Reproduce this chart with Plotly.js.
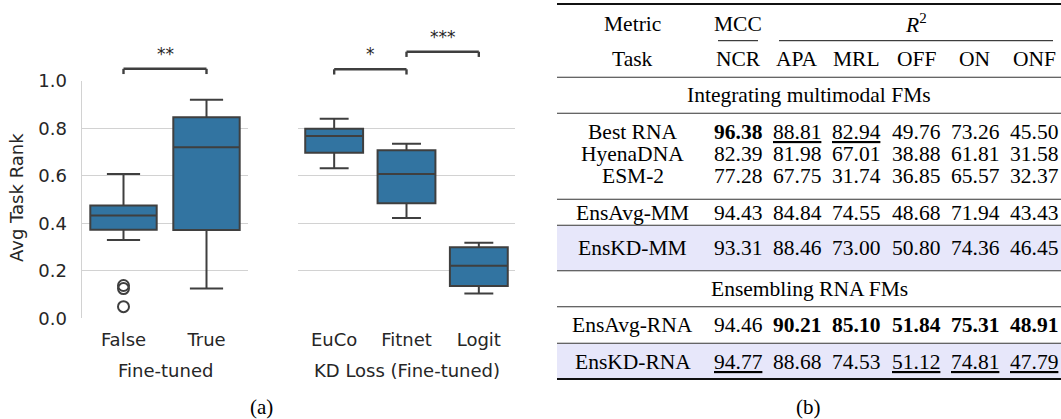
<!DOCTYPE html>
<html>
<head>
<meta charset="utf-8">
<script src="https://cdn.plot.ly/plotly-3.0.1.min.js"></script>
<style>html,body{margin:0;padding:0;background:#fff;}#chart{width:1061px;height:419px;}</style>
</head>
<body>
<div id="chart"></div>
<script>
// ---------- (a) box plot data ----------
const ftCategories = ['False', 'True'];
const ftLowerWhisker = [0.330, 0.125];
const ftQ1 = [0.373, 0.372];
const ftMedian = [0.433, 0.720];
const ftQ3 = [0.475, 0.846];
const ftUpperWhisker = [0.607, 0.920];
const ftOutlierCats = ['False', 'False', 'False'];
const ftOutliers = [0.138, 0.125, 0.049];

const kdCategories = ['EuCo', 'Fitnet', 'Logit'];
const kdLowerWhisker = [0.631, 0.422, 0.104];
const kdQ1 = [0.697, 0.484, 0.136];
const kdMedian = [0.767, 0.607, 0.221];
const kdQ3 = [0.798, 0.707, 0.299];
const kdUpperWhisker = [0.840, 0.735, 0.318];

const yTicks = [0.0, 0.2, 0.4, 0.6, 0.8, 1.0];

// significance brackets: [axis, cat1, cat2, level, label]
const sigPairs = [
  ['x', 'False', 'True', 1.050, '**'],
  ['x2', 'EuCo', 'Fitnet', 1.048, '*'],
  ['x2', 'Fitnet', 'Logit', 1.122, '***']
];

// ---------- (b) table data ----------
const metricHeader = ['MCC', 'R²'];
const tasks = ['NCR', 'APA', 'MRL', 'OFF', 'ON', 'ONF'];
const models = ['Best RNA', 'HyenaDNA', 'ESM-2', 'EnsAvg-MM', 'EnsKD-MM', 'EnsAvg-RNA', 'EnsKD-RNA'];
const ncr = [96.38, 82.39, 77.28, 94.43, 93.31, 94.46, 94.77];
const apa = [88.81, 81.98, 67.75, 84.84, 88.46, 90.21, 88.68];
const mrl = [82.94, 67.01, 31.74, 74.55, 73.00, 85.10, 74.53];
const off = [49.76, 38.88, 36.85, 48.68, 50.80, 51.84, 51.12];
const on = [73.26, 61.81, 65.57, 71.94, 74.36, 75.31, 74.81];
const onf = [45.50, 31.58, 32.37, 43.43, 46.45, 48.91, 47.79];
const sectionTitles = ['Integrating multimodal FMs', 'Ensembling RNA FMs'];

// ---------- styles / positions ----------
const W = 1061, H = 419;
const SANS = 'DejaVu Sans';
const SERIF = 'Liberation Serif';
const TXT = '#262626';
const BOXFILL = '#3274a1';
const EDGE = '#3f3f3f';
const GRID = '#d2d2d2';
const px = x => x / W;
const py = y => 1 - y / H;
const yDom = [py(318.3), py(80.7)];

const boxCommon = {
  type: 'box', boxpoints: false, fillcolor: BOXFILL,
  line: {color: EDGE, width: 2}, whiskerwidth: 0.5, width: 0.8,
  hoverinfo: 'skip', showlegend: false
};

const traces = [
  Object.assign({}, boxCommon, {
    x: ftCategories, q1: ftQ1, median: ftMedian, q3: ftQ3,
    lowerfence: ftLowerWhisker, upperfence: ftUpperWhisker, xaxis: 'x', yaxis: 'y'
  }),
  {
    type: 'scatter', mode: 'markers', x: ftOutlierCats, y: ftOutliers, xaxis: 'x', yaxis: 'y',
    marker: {symbol: 'circle-open', size: 11, color: EDGE, line: {width: 2, color: EDGE}},
    showlegend: false, hoverinfo: 'skip'
  },
  Object.assign({}, boxCommon, {
    x: kdCategories, q1: kdQ1, median: kdMedian, q3: kdQ3,
    lowerfence: kdLowerWhisker, upperfence: kdUpperWhisker, xaxis: 'x2', yaxis: 'y2'
  })
];

const axFont = {family: SANS, size: 18, color: TXT};
const xCommon = {type: 'category', showgrid: false, zeroline: false, showline: false,
  ticks: '', tickfont: axFont, ticklabelstandoff: 9, fixedrange: true};
const yCommon = {range: [0, 1], tickvals: yTicks, ticktext: yTicks.map(v => v.toFixed(1)),
  showgrid: true, gridcolor: GRID, gridwidth: 1.4, zeroline: false, ticks: '',
  tickfont: axFont, domain: yDom, fixedrange: true, ticklabelstandoff: 10};

const shapes = [];
const annotations = [];

// significance brackets
const tickDrop = 0.022;
sigPairs.forEach(([ax, a, b, lvl, lab]) => {
  const yr = (ax === 'x' ? 'y' : 'y2') + ' domain';
  const base = {type: 'line', xref: ax, yref: yr, line: {color: EDGE, width: 2.4}};
  shapes.push(Object.assign({}, base, {x0: a, x1: b, y0: lvl, y1: lvl}));
  shapes.push(Object.assign({}, base, {x0: a, x1: a, y0: lvl, y1: lvl - tickDrop}));
  shapes.push(Object.assign({}, base, {x0: b, x1: b, y0: lvl, y1: lvl - tickDrop}));
  const cats = (ax === 'x' ? ftCategories : kdCategories);
  annotations.push({xref: ax, yref: yr,
    x: (cats.indexOf(a) + cats.indexOf(b)) / 2, y: lvl + 0.012, yanchor: 'bottom', showarrow: false, text: lab,
    font: {family: SANS, size: 17, color: TXT}});
});

// axis titles
annotations.push({xref: 'paper', yref: 'paper', x: px(16), y: py(198), text: 'Avg Task Rank',
  textangle: -90, showarrow: false, font: axFont, xanchor: 'center', yanchor: 'middle'});
annotations.push({xref: 'paper', yref: 'paper', x: px(165), y: py(370), text: 'Fine-tuned',
  showarrow: false, font: axFont, xanchor: 'center', yanchor: 'middle'});
annotations.push({xref: 'paper', yref: 'paper', x: px(406.5), y: py(370), text: 'KD Loss (Fine-tuned)',
  showarrow: false, font: axFont, xanchor: 'center', yanchor: 'middle'});
annotations.push({xref: 'paper', yref: 'paper', x: px(261), y: py(407), text: '(a)',
  showarrow: false, font: {family: SERIF, size: 21, color: '#000'}, xanchor: 'center', yanchor: 'middle'});
annotations.push({xref: 'paper', yref: 'paper', x: px(808), y: py(407), text: '(b)',
  showarrow: false, font: {family: SERIF, size: 21, color: '#000'}, xanchor: 'center', yanchor: 'middle'});

// ---------- table ----------
const TF = {family: SERIF, size: 21.5, color: '#000'};
const tL = 557, tR = 1061;
const labelX = 632.5;
const colX = [738, 797, 856, 916, 975, 1034];
const cols = [ncr, apa, mrl, off, on, onf];
const rowY = [132, 154, 176, 212.5, 248, 325, 361.5];

function hline(y, x0, x1, w, c) {
  shapes.push({type: 'line', xref: 'paper', yref: 'paper', x0: px(x0), x1: px(x1),
    y0: py(y), y1: py(y), line: {color: c || '#111', width: w}});
}
function cell(x, y, t) {
  annotations.push({xref: 'paper', yref: 'paper', x: px(x), y: py(y), text: t,
    showarrow: false, font: TF, xanchor: 'center', yanchor: 'middle'});
}

// shaded rows
const shadeBands = [[225.8, 270.2], [343.8, 378.4]];
shadeBands.forEach(([a, b]) => shapes.push({type: 'rect', xref: 'paper', yref: 'paper', layer: 'below',
  x0: px(tL), x1: px(tR), y0: py(b), y1: py(a), fillcolor: '#e7e7fa', line: {width: 0}}));

hline(4, tL, tR, 2);
hline(40.7, 718, 758, 1);
hline(40.7, 779, 1053, 1);
[77.3, 113.3, 199.3, 225.3, 270.7, 306.7, 343.3].forEach(y => hline(y, tL, tR, 1.1, '#333'));
hline(379, tL, tR, 2);

cell(labelX, 23.5, 'Metric');
cell(colX[0], 23.5, metricHeader[0]);
cell((colX[1] + colX[5]) / 2, 23.5, '<i>R</i><sup>2</sup>');
cell(labelX, 59.3, 'Task');
tasks.forEach((t, j) => cell(colX[j], 59.3, t));
cell((tL + tR) / 2, 95.3, sectionTitles[0]);
cell((tL + tR) / 2, 288.7, sectionTitles[1]);

// best (bold) and second best (underlined) per column
const fmt = cols.map(col => {
  const sorted = col.slice().sort((a, b) => b - a);
  return col.map(v => {
    const s = v.toFixed(2);
    if (v === sorted[0]) return '<b>' + s + '</b>';
    if (v === sorted[1]) return '<span style="text-decoration:underline">' + s + '</span>';
    return s;
  });
});
models.forEach((m, i) => {
  cell(labelX, rowY[i], m);
  cols.forEach((col, j) => cell(colX[j], rowY[i], fmt[j][i]));
});

const layout = {
  width: W, height: H, margin: {l: 0, r: 0, t: 0, b: 0},
  paper_bgcolor: '#fff', plot_bgcolor: '#fff', showlegend: false,
  xaxis: Object.assign({}, xCommon, {domain: [px(82), px(248)], range: [-0.5, 1.5],
    categoryorder: 'array', categoryarray: ftCategories, anchor: 'y'}),
  yaxis: Object.assign({}, yCommon, {anchor: 'x', showline: true, linecolor: GRID, linewidth: 1.4}),
  xaxis2: Object.assign({}, xCommon, {domain: [px(298), px(515)], range: [-0.5, 2.5],
    categoryorder: 'array', categoryarray: kdCategories, anchor: 'y2'}),
  yaxis2: Object.assign({}, yCommon, {anchor: 'x2', showticklabels: false, showline: false}),
  shapes: shapes, annotations: annotations
};

Plotly.newPlot('chart', traces, layout, {displayModeBar: false, staticPlot: true});
</script>
</body>
</html>
